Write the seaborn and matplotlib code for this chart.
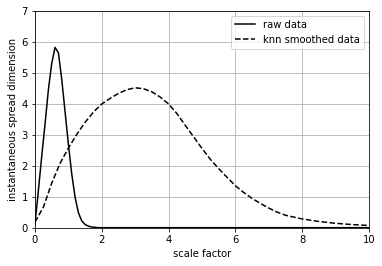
import matplotlib
matplotlib.use("Agg")
import matplotlib.pyplot as plt
import seaborn as sns
import numpy as np

# raw data
raw_x = [0.0, 0.1, 0.2, 0.3, 0.4, 0.5, 0.6, 0.7, 0.8, 0.9, 1.0, 1.1, 1.2, 1.3, 1.4,
         1.5, 1.6, 1.7, 1.8, 1.9, 2.0, 2.5, 3.0, 4.0, 5.0, 6.0, 7.0, 8.0, 9.0, 10.0]
raw_y = [0.15, 1.2, 2.3, 3.35, 4.45, 5.3, 5.82, 5.65, 4.8, 3.75, 2.7, 1.75, 1.0, 0.5, 0.24,
         0.12, 0.07, 0.04, 0.03, 0.02, 0.02, 0.02, 0.02, 0.02, 0.02, 0.02, 0.02, 0.02, 0.02, 0.02]

# knn smoothed data
knn_x = [0.0, 0.25, 0.5, 0.75, 1.0, 1.25, 1.5, 1.75, 2.0, 2.25, 2.5, 2.75, 3.0, 3.25, 3.5,
         3.75, 4.0, 4.25, 4.5, 4.75, 5.0, 5.25, 5.5, 5.75, 6.0, 6.25, 6.5, 6.75, 7.0, 7.25,
         7.5, 8.0, 8.5, 9.0, 9.5, 10.0]
knn_y = [0.2, 0.68, 1.45, 2.09, 2.58, 3.02, 3.41, 3.74, 4.0, 4.18, 4.34, 4.46, 4.52, 4.49, 4.39,
         4.22, 4.0, 3.69, 3.31, 2.94, 2.57, 2.22, 1.92, 1.64, 1.37, 1.15, 0.96, 0.80, 0.65, 0.52,
         0.42, 0.30, 0.22, 0.16, 0.12, 0.09]

x_ticks = [0, 2, 4, 6, 8, 10]
y_ticks = [0, 1, 2, 3, 4, 5, 6, 7]

plt.rcParams['font.family'] = ['DejaVu Sans']
plt.rcParams['font.size'] = 10

fig = plt.figure(figsize=(382 / 72, 266 / 72), dpi=72)
ax = fig.add_axes([35 / 382, (266 - 228.3) / 266, 334 / 382, 217.6 / 266])

sns.lineplot(x=raw_x, y=raw_y, ax=ax, color='black', linewidth=1.5, label='raw data',
             sort=False, estimator=None)
sns.lineplot(x=knn_x, y=knn_y, ax=ax, color='black', linewidth=1.5, linestyle='--',
             label='knn smoothed data', sort=False, estimator=None)

ax.set_xlim(0, 10)
ax.set_ylim(0, 7)
ax.set_xticks(x_ticks)
ax.set_yticks(y_ticks)
ax.grid(True, color='#b0b0b0', linewidth=0.8)
ax.set_axisbelow(True)
ax.set_xlabel('scale factor')
ax.set_ylabel('instantaneous spread dimension')
ax.legend(loc='upper right')

fig.savefig('out.png', dpi=72)
